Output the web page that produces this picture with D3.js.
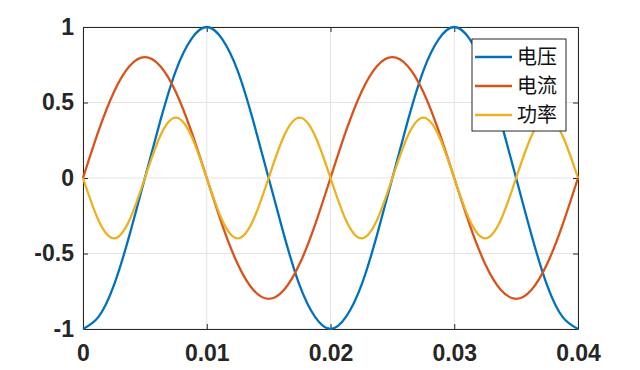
<!DOCTYPE html>
<html>
<head>
<meta charset="utf-8">
<script src="https://cdn.jsdelivr.net/npm/d3@7"></script>
<style>
  html, body { margin: 0; padding: 0; background: #fff; }
  svg { display: block; }
</style>
</head>
<body>
<div id="chart"></div>
<script>
// time samples (s), step 0.00125
const times = [
  0, 0.00125, 0.0025, 0.00375, 0.005, 0.00625, 0.0075, 0.00875,
  0.01, 0.01125, 0.0125, 0.01375, 0.015, 0.01625, 0.0175, 0.01875,
  0.02, 0.02125, 0.0225, 0.02375, 0.025, 0.02625, 0.0275, 0.02875,
  0.03, 0.03125, 0.0325, 0.03375, 0.035, 0.03625, 0.0375, 0.03875, 0.04
];

const voltage = [
  -1, -0.92, -0.71, -0.38, 0, 0.38, 0.71, 0.92,
  1, 0.92, 0.71, 0.38, 0, -0.38, -0.71, -0.92,
  -1, -0.92, -0.71, -0.38, 0, 0.38, 0.71, 0.92,
  1, 0.92, 0.71, 0.38, 0, -0.38, -0.71, -0.92, -1
];

const current = [
  0, 0.31, 0.57, 0.74, 0.8, 0.74, 0.57, 0.31,
  0, -0.31, -0.57, -0.74, -0.8, -0.74, -0.57, -0.31,
  0, 0.31, 0.57, 0.74, 0.8, 0.74, 0.57, 0.31,
  0, -0.31, -0.57, -0.74, -0.8, -0.74, -0.57, -0.31, 0
];

const power = [
  0, -0.28, -0.4, -0.28, 0, 0.28, 0.4, 0.28,
  0, -0.28, -0.4, -0.28, 0, 0.28, 0.4, 0.28,
  0, -0.28, -0.4, -0.28, 0, 0.28, 0.4, 0.28,
  0, -0.28, -0.4, -0.28, 0, 0.28, 0.4, 0.28, 0
];

const seriesNames = ['电压', '电流', '功率'];
const seriesColors = ['#0072BD', '#D95319', '#EDB120'];
const xTicks = [0, 0.01, 0.02, 0.03, 0.04];
const yTicks = [-1, -0.5, 0, 0.5, 1];

const width = 640, height = 370;
const margin = { top: 27, right: 62, bottom: 41, left: 83 };
const axisColor = '#262626';

const svg = d3.select('#chart').append('svg')
  .attr('width', width)
  .attr('height', height);

const x = d3.scaleLinear().domain([0, 0.04]).range([margin.left, width - margin.right]);
const y = d3.scaleLinear().domain([-1, 1]).range([height - margin.bottom, margin.top]);

// grid
const grid = svg.append('g').attr('class', 'grid');
grid.selectAll('line.vx')
  .data(xTicks)
  .enter().append('line')
  .attr('x1', d => x(d)).attr('x2', d => x(d))
  .attr('y1', y(-1)).attr('y2', y(1))
  .attr('stroke', '#e3e3e3').attr('stroke-width', 1);
grid.selectAll('line.hy')
  .data(yTicks)
  .enter().append('line')
  .attr('x1', x(0)).attr('x2', x(0.04))
  .attr('y1', d => y(d)).attr('y2', d => y(d))
  .attr('stroke', '#e3e3e3').attr('stroke-width', 1);

// axes
const fmt = d => d === 0 ? '0' : String(d);
const xAxis = svg.append('g')
  .attr('transform', `translate(0,${y(-1)})`)
  .call(d3.axisBottom(x).tickValues(xTicks).tickFormat(fmt).tickSizeInner(-5).tickSizeOuter(0).tickPadding(16));
const yAxis = svg.append('g')
  .attr('transform', `translate(${x(0)},0)`)
  .call(d3.axisLeft(y).tickValues(yTicks).tickFormat(fmt).tickSizeInner(-5).tickSizeOuter(0).tickPadding(9));
const xTop = svg.append('g')
  .attr('transform', `translate(0,${y(1)})`)
  .call(d3.axisTop(x).tickValues(xTicks).tickFormat('').tickSizeInner(-5).tickSizeOuter(0));
const yRight = svg.append('g')
  .attr('transform', `translate(${x(0.04)},0)`)
  .call(d3.axisRight(y).tickValues(yTicks).tickFormat('').tickSizeInner(-5).tickSizeOuter(0));

[xAxis, yAxis, xTop, yRight].forEach(g => {
  g.select('.domain').attr('stroke', axisColor).attr('stroke-width', 1);
  g.selectAll('.tick line').attr('stroke', axisColor);
  g.selectAll('.tick text')
    .attr('fill', '#262626')
    .style('font-family', '"Liberation Sans", Arial, sans-serif')
    .style('font-weight', 'bold')
    .style('font-size', '23px');
});

// lines
const seriesData = [voltage, current, power];
const line = d3.line()
  .x((d, i) => x(times[i]))
  .y(d => y(d))
  .curve(d3.curveNatural);

svg.append('g').selectAll('path')
  .data(seriesData)
  .enter().append('path')
  .attr('d', d => line(d))
  .attr('fill', 'none')
  .attr('stroke', (d, i) => seriesColors[i])
  .attr('stroke-width', 2.3);

// legend
const legend = svg.append('g').attr('transform', 'translate(472,39)');
legend.append('rect')
  .attr('width', 94).attr('height', 92)
  .attr('fill', '#fff')
  .attr('stroke', axisColor).attr('stroke-width', 1);
const items = legend.selectAll('g.item')
  .data(seriesNames)
  .enter().append('g')
  .attr('transform', (d, i) => `translate(0,${18 + i * 29})`);
items.append('line')
  .attr('x1', 3).attr('x2', 40)
  .attr('stroke', (d, i) => seriesColors[i])
  .attr('stroke-width', 2.3);
items.append('text')
  .attr('x', 45).attr('y', 0).attr('dy', '0.35em')
  .attr('fill', '#111')
  .style('font-family', '"Noto Sans CJK SC", sans-serif')
  .style('font-size', '20px')
  .text(d => d);
</script>
</body>
</html>
